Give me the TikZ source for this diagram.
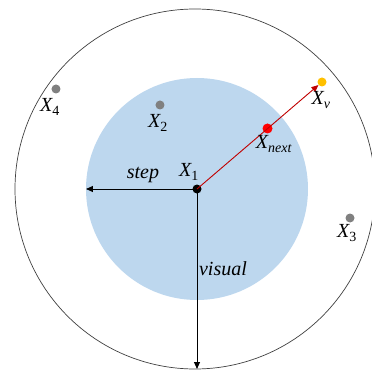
\documentclass[tikz,border=0pt]{standalone}
\usepackage{fontspec}
\setmainfont{Liberation Serif}
\usetikzlibrary{arrows.meta}
\definecolor{skyfill}{RGB}{189,215,238}
\definecolor{dotgray}{RGB}{128,128,128}
\definecolor{dotgold}{RGB}{255,192,0}
\definecolor{linered}{RGB}{192,0,0}
\begin{document}
\begin{tikzpicture}[x=1pt,y=1pt,font=\fontsize{20}{22}\selectfont\itshape,
  dot/.style={circle,inner sep=0pt,minimum size=9pt},
  lbl/.style={inner sep=1pt},
  arr/.style={-{Triangle[length=7pt,width=6pt]},line width=1pt}]
\useasboundingbox (-197,-183) rectangle (175,189);
% ranges
\fill[skyfill] (0,0) circle (111);
\draw[black!75,line width=0.7pt] (-2,0) circle (180);
% points
\node[dot,fill=black] (x1) at (0,0) {};
\node[dot,fill=red,minimum size=10pt] (xn) at (70.5,60.5) {};
\node[dot,fill=dotgold] (xv) at (125,107) {};
\node[dot,fill=dotgray] (x2) at (-37,84) {};
\node[dot,fill=dotgray] (x3) at (153,-29) {};
\node[dot,fill=dotgray] (x4) at (-141,100) {};
\coordinate (stepend) at (-111,0);
\coordinate (visend) at (0,-180);
% arrows
\draw[arr] (x1.center) -- (stepend);
\draw[arr] (x1.center) -- (visend);
\draw[arr,linered,line width=0.9pt] (x1.center) -- (xv);
% labels
\node[lbl] at (-8,17) {X\textsubscript{\upshape 1}};
\node[lbl] at (-54,14) {step};
\node[lbl] at (26,-80) {visual};
\node[lbl] at (77,45) {X\textsubscript{next}};
\node[lbl] at (124,89) {X\textsubscript{v}};
\node[lbl] at (-39,66) {X\textsubscript{\upshape 2}};
\node[lbl] at (150,-44) {X\textsubscript{\upshape 3}};
\node[lbl] at (-147,82) {X\textsubscript{\upshape 4}};
\end{tikzpicture}
\end{document}
